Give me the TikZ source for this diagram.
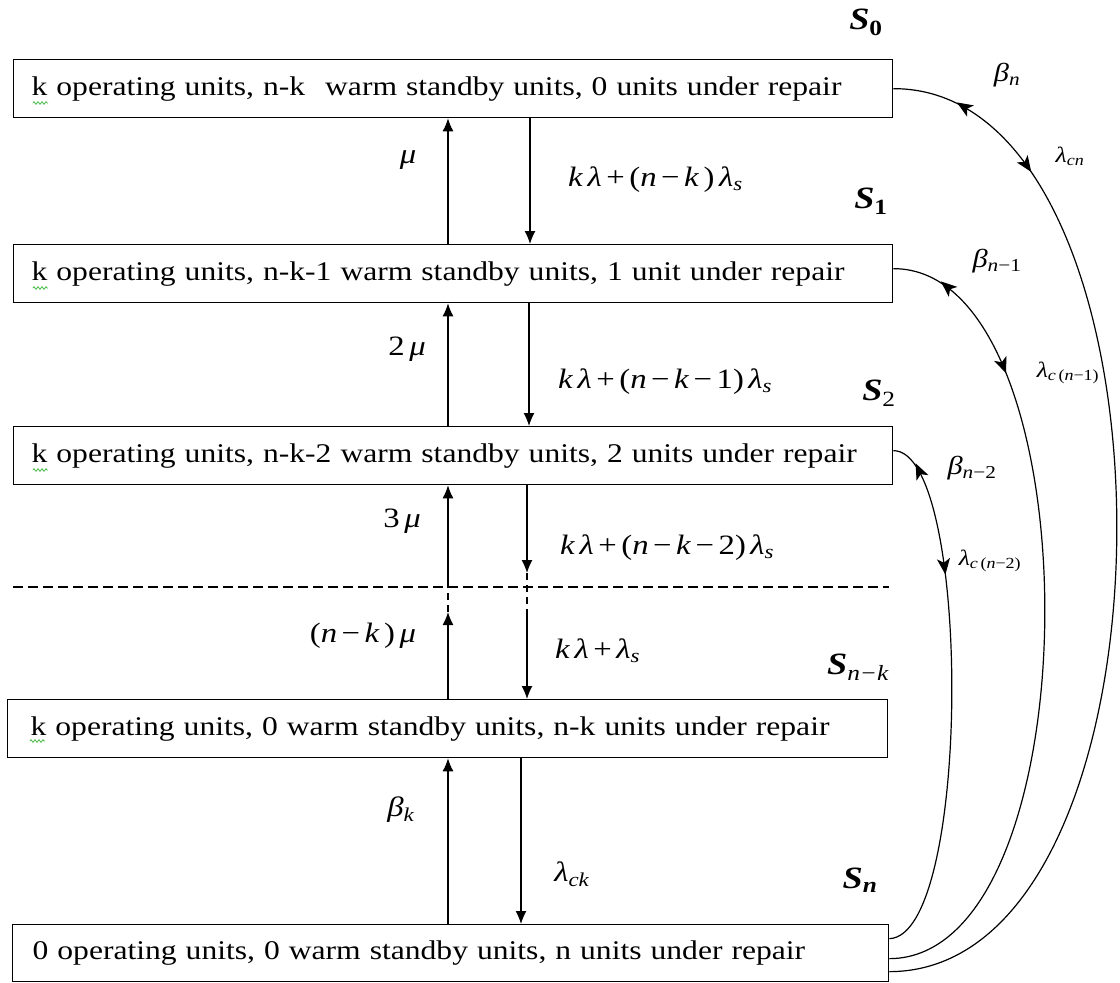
\documentclass[tikz,border=0pt]{standalone}
\usepackage{fontspec}
\setmainfont{Liberation Serif}[FakeStretch=1.17]
\usetikzlibrary{arrows.meta,decorations.markings,decorations.pathmorphing,calc}
\newcommand{\vi}[1]{\textit{#1}}
\newcommand{\sub}[1]{\textsubscript{#1}}
\newcommand{\g}{\hspace{4.5pt}}
\begin{document}
\begin{tikzpicture}[x=1pt,y=-1pt,
  box/.style={draw, line width=1.3pt, anchor=north west, minimum height=58pt,
    inner ysep=0pt, align=left, font=\fontsize{27}{32}\selectfont},
  arr/.style={line width=1.3pt, -{Latex[length=13pt,width=11pt]}},
  gapline/.style={line width=1.1pt, dash pattern=on 7pt off 5pt},
  midline/.style={line width=1.1pt, dash pattern=on 10pt off 5pt},
  curve/.style={line width=1.2pt},
  arrpair/.style 2 args={postaction={decorate}, decoration={markings,
    mark=at position #1 with {\arrow{Stealth[length=16pt,width=13pt,inset=4pt,reversed]}},
    mark=at position #2 with {\arrow{Stealth[length=16pt,width=13pt,inset=4pt]}}}},
  lab/.style={font=\fontsize{28}{32}\selectfont, inner sep=0pt},
  slab/.style={font=\fontsize{31}{34}\selectfont\bfseries\itshape, inner sep=0pt},
  rlab/.style={font=\fontsize{26}{30}\selectfont, inner sep=0pt},
  slab2/.style={font=\fontsize{22}{26}\selectfont, inner sep=0pt},
  squig/.style={draw=green!45!gray, line width=0.8pt, decorate,
    decoration={zigzag, segment length=4pt, amplitude=1.3pt}}
]
\useasboundingbox (0,0) rectangle (1120,983);

% state boxes
\node[box, inner xsep=18pt, text width=843pt] (s0) at (13,59)
  {k operating units, n-k\hspace{20pt}warm standby units, 0 units under repair};
\node[box, inner xsep=18pt, text width=843pt] (s1) at (13,244)
  {k operating units, n-k-1 warm standby units, 1 unit under repair};
\node[box, inner xsep=18pt, text width=843pt] (s2) at (13,426)
  {k operating units, n-k-2 warm standby units, 2 units under repair};
\node[box, inner xsep=23pt, text width=834pt] (snk) at (7,699)
  {k operating units, 0 warm standby units, n-k units under repair};
\node[box, inner xsep=20pt, text width=836pt, minimum height=57pt] (sn) at (12,924)
  {0 operating units, 0 warm standby units, n units under repair};

% spell-check squiggles
\draw[squig] (33,103) -- (48,103);
\draw[squig] (33,288) -- (48,288);
\draw[squig] (33,470) -- (48,470);
\draw[squig] (30,741) -- (45,741);

% state labels
\node[slab] (l0) at (866,22) {S\sub{\upshape 0}};
\node[slab] (l1) at (871,201) {S\sub{\upshape 1}};
\node[slab] (l2) at (879,393) {S\sub{\upshape\mdseries 2}};
\node[slab] (lnk) at (858,667) {S\sub{\mdseries n−k}};
\node[slab] (ln) at (860,880) {S\sub{n}};

% vertical coordinates
\coordinate (xu) at (448,0);
\coordinate (xd1) at (530,0);
\coordinate (xd2) at (529,0);
\coordinate (xd4) at (521,0);
\coordinate (u1) at (448,612);
\coordinate (u2) at (448,587);
\coordinate (d1) at (527,573);
\coordinate (d2) at (527,609);
\coordinate (dl) at (13,587);
\coordinate (dr) at (889,587);

% vertical arrows
\draw[arr] (s1.north -| xu) -- (s0.south -| xu);
\draw[arr] (s0.south -| xd1) -- (s1.north -| xd1);
\draw[arr] (s2.north -| xu) -- (s1.south -| xu);
\draw[arr] (s1.south -| xd2) -- (s2.north -| xd2);
\draw[arr] (snk.north -| u1) -- (u1);
\draw[gapline] (u1) -- (u2);
\draw[arr] (u2) -- (s2.south -| u2);
\draw[arr] (s2.south -| d1) -- (d1);
\draw[gapline] (d1) -- (d2);
\draw[arr] (d2) -- (snk.north -| d2);
\draw[arr] (sn.north -| xu) -- (snk.south -| xu);
\draw[arr] (snk.south -| xd4) -- (sn.north -| xd4);

% dashed separator
\draw[midline] (dl) -- (dr);

% transition labels
\node[lab] (m1) at (408,160) {\vi{μ}};
\node[lab, anchor=west] (t1) at (568,180) {\vi{k}\g\vi{λ}\g+\g(\vi{n}\g−\g\vi{k}\g)\g\vi{λ}\sub{\vi{s}}};
\node[lab] (m2) at (407,349) {2\,\vi{μ}};
\node[lab, anchor=west] (t2) at (558,382) {\vi{k}\g\vi{λ}\g+\g(\vi{n}\g−\g\vi{k}\g−\g1)\g\vi{λ}\sub{\vi{s}}};
\node[lab] (m3) at (402,521) {3\,\vi{μ}};
\node[lab, anchor=west] (t3) at (560,548) {\vi{k}\g\vi{λ}\g+\g(\vi{n}\g−\g\vi{k}\g−\g2)\g\vi{λ}\sub{\vi{s}}};
\node[lab] (m4) at (363,636) {(\vi{n}\g−\g\vi{k}\g)\g\vi{μ}};
\node[lab, anchor=west] (t4) at (555,651) {\vi{k}\g\vi{λ}\g+\g\vi{λ}\sub{\vi{s}}};
\node[lab] (bk) at (401,810) {\vi{β}\sub{\vi{k}}};
\node[lab] (lck) at (572,874) {\vi{λ}\sub{\vi{ck}}};

% right-side curves
\draw[curve, arrpair={0.075}{0.155}] (s0.east) .. controls (1192,88) and (1192,971) .. ([yshift=-18.5pt]sn.east);
\draw[curve, arrpair={0.08}{0.2}] ([yshift=5pt]s1.east) .. controls (1096,268) and (1096,958) .. ([yshift=-5.5pt]sn.east);
\draw[curve, arrpair={0.08}{0.27}] ([yshift=5pt]s2.east) .. controls (972,450) and (972,936) .. ([yshift=14.5pt]sn.east);

% right-side labels
\node[rlab] (bn) at (1007,75) {\vi{β}\sub{\vi{n}}};
\node[slab2] (lcn) at (1070,156) {\vi{λ}\sub{\vi{cn}}};
\node[rlab] (bn1) at (997,261) {\vi{β}\sub{\vi{n}−1}};
\node[slab2] (lcn1) at (1068,373) {\vi{λ}\sub{\vi{c}\,(\vi{n}−1)}};
\node[rlab] (bn2) at (972,468) {\vi{β}\sub{\vi{n}−2}};
\node[slab2] (lcn2) at (990,561) {\vi{λ}\sub{\vi{c}\,(\vi{n}−2)}};
\end{tikzpicture}
\end{document}
